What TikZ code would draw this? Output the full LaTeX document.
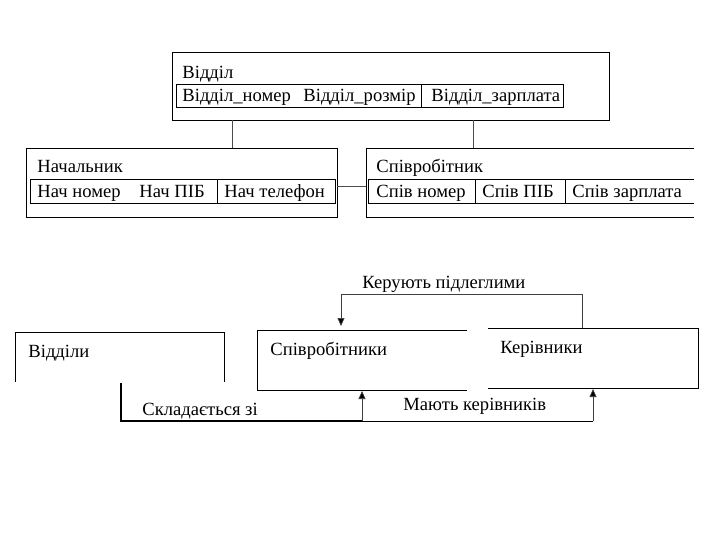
\documentclass[tikz,border=0pt]{standalone}
\usepackage{fontspec}
\setmainfont{Liberation Serif}
\usetikzlibrary{arrows.meta}
\begin{document}
\begin{tikzpicture}[x=1pt,y=-1pt,line width=0.9pt,
  txt/.style={anchor=base west,inner sep=0pt,font=\fontsize{18.6}{18.6}\selectfont},
  frame/.style={draw,inner sep=0pt,anchor=north west},
  link/.style={line width=0.8pt},
  arr/.style={line width=0.7pt,draw=black!75,-{Triangle[length=8pt,width=7pt,fill=black]}}]
\useasboundingbox[fill=white] (0,0) rectangle (720,540);

% ---------- top: Відділ ----------
\node[frame,minimum width=437pt,minimum height=68pt] (otd) at (172,52) {};
\node[frame,minimum width=387pt,minimum height=23pt] (otdrow) at (176,84) {};
\draw (421,84) -- (421,107);
\node[txt] (otdname) at (182,79) {Відділ};
\node[txt] (otd1) at (182,102) {Відділ\_номер};
\node[txt] (otd2) at (303,102) {Відділ\_розмір};
\node[txt] (otd3) at (431,102) {Відділ\_зарплата};

% ---------- Начальник ----------
\node[frame,minimum width=311pt,minimum height=69pt] (nach) at (26,148) {};
\node[frame,minimum width=305pt,minimum height=24pt] (nachrow) at (30,179) {};
\draw (217,179) -- (217,203);
\node[txt] (nachname) at (37,173) {Начальник};
\node[txt] (nach1) at (37,197) {Нач номер};
\node[txt] (nach2) at (139,197) {Нач ПІБ};
\node[txt] (nach3) at (224,197) {Нач телефон};

% ---------- Співробітник (open on the right) ----------
\draw (694,148) -- (366,148) -- (366,217) -- (694,217);
\draw (694,179) -- (368,179) -- (368,203) -- (694,203);
\draw (475,179) -- (475,203);
\draw (565,179) -- (565,203);
\node[txt] (spname) at (376,173) {Співробітник};
\node[txt] (sp1) at (376,197) {Спів номер};
\node[txt] (sp2) at (482,197) {Спів ПІБ};
\node[txt] (sp3) at (572,197) {Спів зарплата};

% links between tables
\draw[link,draw=black!70] (232,120) -- (232,148);
\draw[link,draw=black!70] (473,120) -- (473,148);
\draw[link,draw=black!70] (337,186) -- (366,186);

% ---------- bottom part ----------
% Відділи
\draw (15,382) -- (15,332) -- (224,332) -- (224,382);
\node[txt] (vidd) at (28,357) {Відділи};
% Співробітники
\draw (467,330) -- (257,330) -- (257,390) -- (467,390);
\node[txt] (spiv) at (270,355) {Співробітники};
% Керівники
\draw (488,328) -- (698,328) -- (698,388) -- (488,388);
\node[txt] (kerv) at (500,353) {Керівники};

% Керують підлеглими
\coordinate (k1) at (582,328);
\coordinate (k2) at (582,294);
\coordinate (k3) at (341,294);
\coordinate (k4) at (341,326);
\draw[arr] (k1) -- (k2) -- (k3) -- (k4);
\node[txt] (lk) at (362,288) {Керують підлеглими};

% Складається зі
\coordinate (s1) at (121,383);
\coordinate (s2) at (121,421);
\coordinate (s3) at (362,421);
\coordinate (s4) at (362,391);
\draw[line width=1.2pt] (s1) -- (s2) -- (s3);
\draw[arr] (s3) -- (s4);
\node[txt] (ls) at (142,415) {Складається зі};

% Мають керівників
\coordinate (m1) at (593,421);
\coordinate (m2) at (593,389);
\draw[line width=0.8pt] (s3) -- (m1);
\draw[arr] (m1) -- (m2);
\node[txt] (lm) at (403,410) {Мають керівників};
\end{tikzpicture}
\end{document}
